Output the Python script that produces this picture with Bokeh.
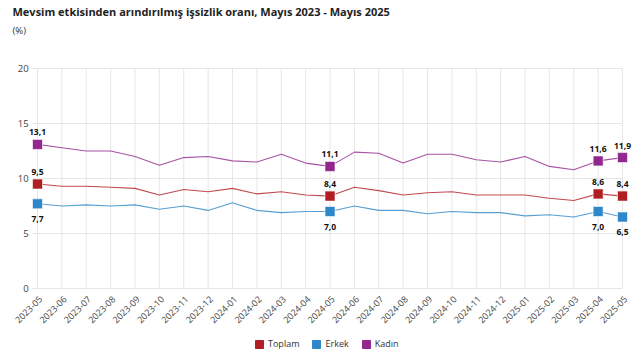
from bokeh.plotting import figure
from bokeh.models import Range1d, Legend, LegendItem, ColumnDataSource, Label
from bokeh.core.properties import value
from bokeh.embed import file_html
from bokeh.resources import INLINE

months = ["2023-05", "2023-06", "2023-07", "2023-08", "2023-09", "2023-10", "2023-11", "2023-12",
          "2024-01", "2024-02", "2024-03", "2024-04", "2024-05", "2024-06", "2024-07", "2024-08",
          "2024-09", "2024-10", "2024-11", "2024-12", "2025-01", "2025-02", "2025-03", "2025-04", "2025-05"]
toplam = [9.5, 9.3, 9.3, 9.2, 9.1, 8.5, 9.0, 8.8, 9.1, 8.6, 8.8, 8.5, 8.4,
          9.2, 8.9, 8.5, 8.7, 8.8, 8.5, 8.5, 8.5, 8.2, 8.0, 8.6, 8.4]
erkek = [7.7, 7.5, 7.6, 7.5, 7.6, 7.2, 7.5, 7.1, 7.8, 7.1, 6.9, 7.0, 7.0,
         7.5, 7.1, 7.1, 6.8, 7.0, 6.9, 6.9, 6.6, 6.7, 6.5, 7.0, 6.5]
kadin = [13.1, 12.8, 12.5, 12.5, 12.0, 11.2, 11.9, 12.0, 11.6, 11.5, 12.2, 11.4, 11.1,
         12.4, 12.3, 11.4, 12.2, 12.2, 11.7, 11.5, 12.0, 11.1, 10.8, 11.6, 11.9]
highlight = [0, 12, 23, 24]
series_names = ["Toplam", "Erkek", "Kadın"]
y_ticks = [0, 5, 10, 15, 20]
title_text = "Mevsim etkisinden arındırılmış işsizlik oranı, Mayıs 2023 - Mayıs 2025"
unit_text = "(%)"

colors = ["#b01e23", "#2d87c8", "#92278f"]
FONT = "Open Sans"
W, H = 640, 361

x = list(range(len(months)))
n = len(months)
# plot-area geometry in pixels (whole canvas is the frame; axes drawn by hand)
px_left, px_right, px_top, px_bottom = 37, 622, 68, 288
sx = (px_right - px_left) / (n - 1)
sy = (px_bottom - px_top) / (y_ticks[-1] - y_ticks[0])
left_pad = 0.2
NAN = float("nan")

p = figure(width=W, height=H, output_backend="svg", toolbar_location=None,
           x_axis_location=None, y_axis_location=None,
           x_range=Range1d(x[0] - px_left / sx, x[-1] + (W - px_right) / sx),
           y_range=Range1d(y_ticks[0] - (H - px_bottom) / sy, y_ticks[-1] + px_top / sy),
           min_border=0, min_border_left=0, min_border_right=0, min_border_top=0, min_border_bottom=0)
p.outline_line_color = None
p.background_fill_color = "white"
p.border_fill_color = "white"
p.grid.visible = False

# grid lines
p.segment(x0=x, y0=[y_ticks[0]] * n, x1=x, y1=[y_ticks[-1]] * n, line_color="#e6e6e6", line_width=1)
p.segment(x0=[x[0] - left_pad] * len(y_ticks), y0=y_ticks, x1=[x[-1]] * len(y_ticks), y1=y_ticks,
          line_color="#e6e6e6", line_width=1)

# y tick labels
p.text(x=[x[0] - left_pad] * len(y_ticks), y=y_ticks, text=[str(t) for t in y_ticks],
       x_offset=-4, text_font=value(FONT), text_font_size="9.5px", text_color="#444444",
       text_align="right", text_baseline="middle")
# x tick labels (rotated)
p.text(x=x, y=[y_ticks[0]] * n, text=months, angle=0.785, x_offset=3, y_offset=9,
       text_font=value(FONT), text_font_size="9px", text_color="#444444",
       text_align="right", text_baseline="middle")

# titles
p.add_layout(Label(x=x[0], y=y_ticks[-1], x_offset=-25, y_offset=57, text=title_text,
                   text_font=FONT, text_font_size="11px", text_font_style="bold",
                   text_color="#222222", text_baseline="middle", text_align="left"))
p.add_layout(Label(x=x[0], y=y_ticks[-1], x_offset=-25, y_offset=38, text=unit_text,
                   text_font=FONT, text_font_size="9.5px", text_color="#333333",
                   text_baseline="middle", text_align="left"))

items = []
for name, vals, col, lab_off in zip(series_names, [toplam, erkek, kadin], colors, [-12, 15, -12]):
    p.line(x, vals, line_color=col, line_width=1.1, line_alpha=0.8)
    hx = [x[i] for i in highlight]
    hy = [vals[i] for i in highlight]
    src = ColumnDataSource(dict(x=hx, y=hy, t=[f"{v:.1f}".replace(".", ",") for v in hy]))
    p.scatter("x", "y", source=src, marker="square", size=10, fill_color=col,
              line_color="#ffffff", line_width=0.6)
    p.text("x", "y", text="t", source=src, text_font=value(FONT), text_font_size="8.5px",
           text_font_style="bold", text_color="#111111", text_align="center",
           text_baseline="middle", y_offset=lab_off)
    # legend swatch (NaN geometry: nothing drawn in the plot, only the legend square)
    sw = p.quad(left=[NAN], right=[NAN], top=[NAN], bottom=[NAN], fill_color=col, line_color=col)
    items.append(LegendItem(label=name, renderers=[sw]))

legend = Legend(items=items, orientation="horizontal", location=(254, 11),
                label_text_font=FONT, label_text_font_size="9px", label_text_color="#333333",
                glyph_width=10, glyph_height=10, label_standoff=4, spacing=12,
                padding=0, margin=0, border_line_color=None, background_fill_alpha=0,
                label_height=10)
p.add_layout(legend, "center")

open("out.html", "w").write(file_html(p, INLINE))
